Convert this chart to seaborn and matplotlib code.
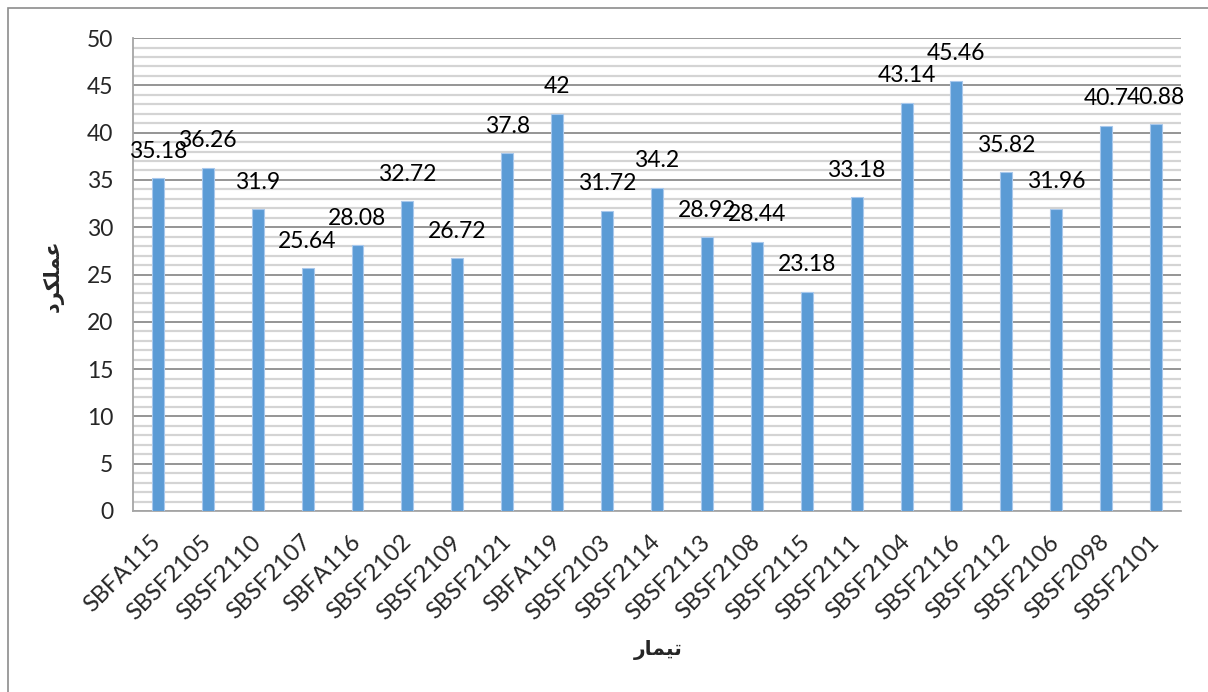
import matplotlib
matplotlib.use("Agg")
import matplotlib.pyplot as plt
import seaborn as sns
import pandas as pd
from matplotlib.patches import Rectangle
from matplotlib.ticker import MultipleLocator

categories = ["SBFA115", "SBSF2105", "SBSF2110", "SBSF2107", "SBFA116", "SBSF2102",
              "SBSF2109", "SBSF2121", "SBFA119", "SBSF2103", "SBSF2114", "SBSF2113",
              "SBSF2108", "SBSF2115", "SBSF2111", "SBSF2104", "SBSF2116", "SBSF2112",
              "SBSF2106", "SBSF2098", "SBSF2101"]
values = [35.18, 36.26, 31.9, 25.64, 28.08, 32.72, 26.72, 37.8, 42, 31.72, 34.2, 28.92,
          28.44, 23.18, 33.18, 43.14, 45.46, 35.82, 31.96, 40.7, 40.88]

# Persian axis titles in presentation forms, visual order
x_title = "\uFEAD\uFE8E\uFEE4\uFEF4\uFE97"          # تیمار
y_title = "\uFEA9\uFEAE\uFB91\uFEE0\uFEE4\uFECB"    # عملکرد

df = pd.DataFrame({"treatment": categories, "yield": values})

sns.set_style("white")
plt.rcParams["font.family"] = ["Lato", "DejaVu Sans"]

fig = plt.figure(figsize=(12.08, 6.92), dpi=100)
ax = fig.add_axes([0.110, 0.2616, 0.8677, 0.6834])

sns.barplot(data=df, x="treatment", y="yield", color="#5B9BD5", width=0.24,
            edgecolor="#a8c8ec", linewidth=0.8, saturation=1, ax=ax, zorder=3)

ax.set_ylim(0, 50)
ax.set_xlim(-0.5, len(categories) - 0.5)
ax.yaxis.set_major_locator(MultipleLocator(5))
ax.yaxis.set_minor_locator(MultipleLocator(1))
ax.grid(axis="y", which="major", color="#8c8c8c", linewidth=1.3, zorder=1)
ax.grid(axis="y", which="minor", color="#d4d4d4", linewidth=1.6, zorder=0)
ax.grid(axis="x", visible=False)
ax.set_axisbelow(True)

for side in ["top", "right"]:
    ax.spines[side].set_visible(False)
for side in ["left", "bottom"]:
    ax.spines[side].set_color("#a6a6a6")
    ax.spines[side].set_linewidth(1.3)

ax.tick_params(axis="y", which="major", direction="out", length=7, width=1.2,
               color="#8c8c8c", labelsize=16.5, pad=7)
ax.tick_params(axis="y", which="minor", length=0)
ax.tick_params(axis="x", length=0, labelsize=17, pad=20)
for lbl in ax.get_xticklabels():
    lbl.set_rotation(45)
    lbl.set_ha("right")
    lbl.set_va("center")
    lbl.set_rotation_mode("anchor")

for i, v in enumerate(values):
    ax.annotate(f"{v:g}", xy=(i, v), xytext=(0, 19.5), textcoords="offset points",
                ha="center", va="center", fontsize=16.5, color="black", zorder=5)

ax.set_xlabel("")
ax.set_ylabel("")
fig.text(658 / 1208, 1 - 650 / 692, x_title, ha="center", va="center",
         fontsize=14.5, fontweight="bold", family=["DejaVu Sans"])
fig.text(53 / 1208, 1 - 276 / 692, y_title, ha="center", va="center", rotation=90,
         fontsize=15, fontweight="bold", family=["DejaVu Sans"])

# chart-area border
fig.patches.append(Rectangle((8 / 1208, -0.1), 1.2, 1.1 - 8 / 692,
                             transform=fig.transFigure, fill=False,
                             edgecolor="#8c8c8c", linewidth=1.2))

fig.savefig("out.png", dpi=100)
